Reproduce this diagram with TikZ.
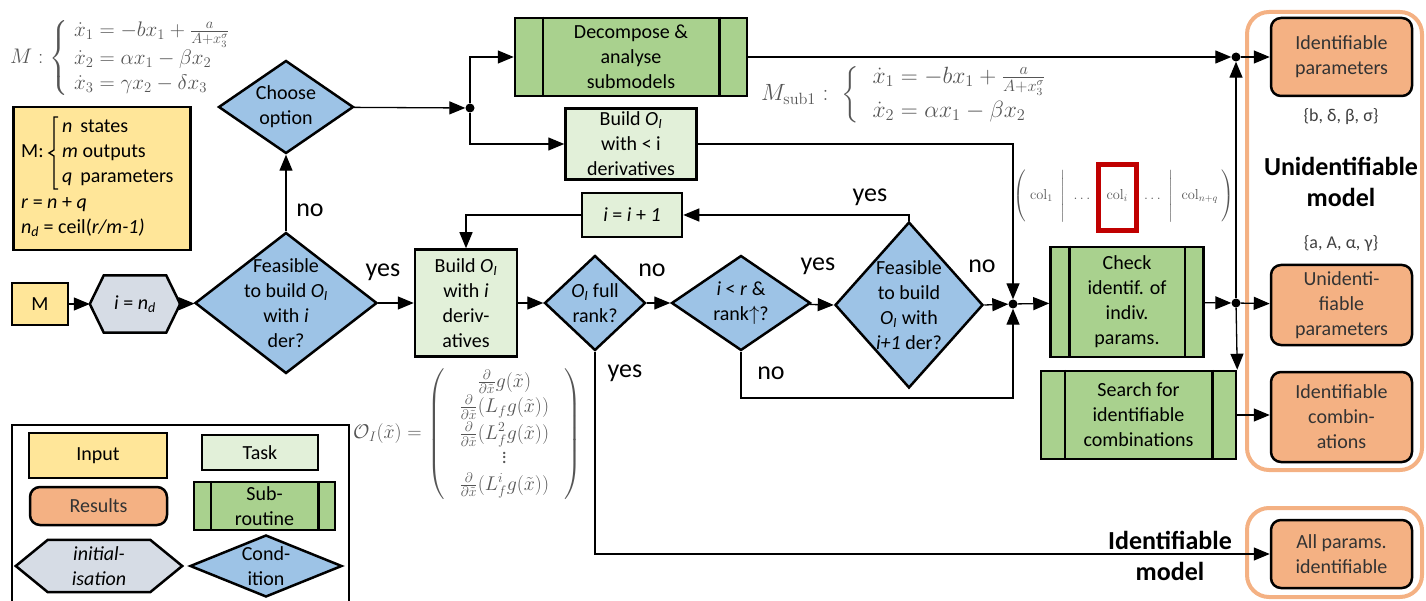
\documentclass[tikz,border=0pt]{standalone}
\usepackage{amsmath}
\usepackage{graphicx}
\usepackage[no-math]{fontspec}
\setmainfont{Carlito}
\usetikzlibrary{shapes.geometric,arrows.meta,backgrounds,calc}
\definecolor{inputY}{HTML}{FFE699}
\definecolor{taskG}{HTML}{E2F0D9}
\definecolor{subG}{HTML}{A9D18E}
\definecolor{resO}{HTML}{F4B183}
\definecolor{frameO}{HTML}{F4B183}
\definecolor{initC}{HTML}{D6DCE5}
\definecolor{condB}{HTML}{9DC3E6}
\definecolor{eqgray}{HTML}{555555}
\definecolor{redC}{HTML}{C00000}
\tikzset{
 box/.style={draw, line width=2.5pt, inner sep=0pt, align=center},
 inputbox/.style={box, fill=inputY},
 taskbox/.style={box, fill=taskG},
 subbox/.style={box, fill=subG},
 resbox/.style={box, fill=resO, rounded corners=10pt, text=black!80},
 condshape/.style={diamond, draw, line width=2.5pt, fill=condB, inner sep=0pt},
 initstyle/.style={draw, line width=2.5pt, fill=initC, line join=miter},
 lbl/.style={inner sep=0pt, align=center},
 sl/.style={inner sep=0pt, text height=13pt, text depth=4pt},
 conn/.style={line width=1.3pt, -{Triangle[length=16pt,width=13pt]}},
 jdot/.style={circle, fill=black, inner sep=0pt, minimum size=9pt},
 yn/.style={font=\fontsize{26}{30}\selectfont, inner sep=0pt},
 eq/.style={inner sep=0pt, text=eqgray, font=\fontsize{17}{20}\selectfont},
 bigbold/.style={font=\fontsize{26}{31}\selectfont\bfseries, align=center, inner sep=0pt},
 setlbl/.style={font=\fontsize{18}{22}\selectfont, text=black!75, inner sep=0pt},
 frame/.style={draw=frameO, line width=4pt, rounded corners=22pt},
}
\newcommand{\hexnode}[6]{%
 \node[minimum width=#3, minimum height=#4, inner sep=0pt] (#1) at (#2) {};
 \draw[initstyle] (#1.west) -- ([xshift=#5]#1.north west) -- ([xshift=-#5]#1.north east) -- (#1.east) -- ([xshift=-#5]#1.south east) -- ([xshift=#5]#1.south west) -- cycle;
 \node[lbl] (#1-t) at (#1) {#6};
}
\newcommand{\subnode}[6]{%
 \node[subbox, minimum width=#3, minimum height=#4] (#1) at (#2) {#6};
 \draw[line width=2.5pt] ([xshift=#5]#1.north west) -- ([xshift=#5]#1.south west)
   ([xshift=-#5]#1.north east) -- ([xshift=-#5]#1.south east);
}
\newcommand{\condnode}[5]{%
 \node[condshape, minimum width=#3, minimum height=#4] (#1) at (#2) {};
 \node[lbl] (#1-t) at (#1) {#5};
}
\newcommand{\OI}{\textit{O}\textsubscript{\textit{I}}}
\begin{document}
\begin{tikzpicture}[x=1pt,y=-1pt,font=\fontsize{20}{25}\selectfont]
\useasboundingbox (0,0) rectangle (1426,601);

% model equations
\node[eq, anchor=west] (eqM) at (10,58) {\scalebox{1.22}{$M:\left\{\begin{array}{l}\dot x_1=-bx_1+\frac{a}{A+x_3^\sigma}\\ \dot x_2=\alpha x_1-\beta x_2\\ \dot x_3=\gamma x_2-\delta x_3\end{array}\right.$}};

% info box
\node[inputbox, minimum width=177, minimum height=143, anchor=north west] (info) at (12,106) {};
\node[sl, anchor=west] (infoM) at (21,153) {M:};
\draw[line width=1.3pt] (58,117) -- (54,117) -- (54,150) -- (49,153) -- (54,156) -- (54,189) -- (58,189);
\node[sl, anchor=west] (inN) at (62,128) {\textit{n}\hspace{8pt}states};
\node[sl, anchor=west] (inM) at (62,153) {\textit{m} outputs};
\node[sl, anchor=west] (inQ) at (62,178) {\textit{q}\hspace{8pt}parameters};
\node[sl, anchor=west] (inR) at (21,204) {\textit{r} = \textit{n} + \textit{q}};
\node[sl, anchor=west] (inD) at (21,229) {\textit{n}\textsubscript{\textit{d}} = ceil(\textit{r/m-1)}};

% main flow
\node[inputbox, minimum width=56, minimum height=42] (M) at (40,304) {M};
\hexnode{init}{135,304}{90}{57}{14pt}{\textit{i} = \textit{n}\textsubscript{\textit{d}}}
\condnode{feas}{286,303}{182}{141}{Feasible\\to build \OI\\with \textit{i}\\der?}
\condnode{choose}{286,107}{135}{93}{Choose\\option}
\node[jdot] (d1) at (470,108) {};
\subnode{dec}{631,57}{232}{78}{29pt}{Decompose \&\\analyse\\submodels}
\node[taskbox, minimum width=131, minimum height=71] (bless) at (631,144) {Build \OI\\with < i\\derivatives};
\node[eq, anchor=west] (eqS) at (761,95) {\scalebox{1.36}{$M_{\mathrm{sub1}}:\;\left\{\;\begin{array}{l}\dot x_1=-bx_1+\frac{a}{A+x_3^\sigma}\\[5pt] \dot x_2=\alpha x_1-\beta x_2\end{array}\right.$}};
\node[taskbox, minimum width=100, minimum height=44] (inc) at (632,215) {\textit{i} = \textit{i} + \textit{1}};
\node[taskbox, minimum width=102, minimum height=107] (build) at (466,303) {Build \OI\\with \textit{i}\\deriv-\\atives};
\condnode{rank}{595,303}{101}{95}{\OI{} full\\rank?}
\condnode{ir}{741,303}{139}{95}{\textit{i} < \textit{r} \&\\rank$\uparrow$?}
\condnode{feasb}{909,305}{148}{166}{Feasible\\to build\\\OI{} with\\\textit{i+1} der?}
\node[jdot] (d2) at (1013,304) {};
\coordinate (c1) at (1013,398);
\subnode{chk}{1127,302}{153}{110}{20pt}{Check\\identif. of\\indiv.\\params.}
\node[jdot] (d3) at (1236,303) {};
\subnode{srch}{1138.5,415}{195}{88}{25pt}{Search for\\identifiable\\combinations}
\node[jdot] (d4) at (1236,57) {};

% O_I matrix
\node[eq, anchor=west] (eqO) at (353,434) {\scalebox{1.15}{$\mathcal{O}_I(\tilde x)=\begin{pmatrix}\frac{\partial}{\partial\tilde x}g(\tilde x)\\[1pt] \frac{\partial}{\partial\tilde x}(L_fg(\tilde x))\\[2pt] \frac{\partial}{\partial\tilde x}(L_f^2g(\tilde x))\\[-2pt] \makebox[104pt]{$\vdots$}\\[2pt] \frac{\partial}{\partial\tilde x}(L_f^ig(\tilde x))\end{pmatrix}$}};

% column vector
\node[eq, font=\fontsize{14}{17}\selectfont, text=eqgray] (cols) at (1124,197) {$\left(\rule[-24pt]{0pt}{50pt}\;\mathrm{col}_1\;\;\middle|\;\;\dots\quad\mathrm{col}_i\quad\dots\;\;\middle|\;\;\mathrm{col}_{n+q}\;\right)$};
\draw[redC, line width=5pt] (1098,165) rectangle (1136,231);

% results
\draw[frame] (1247,12) rectangle (1422,470);
\draw[frame] (1247,508) rectangle (1422,597);
\node[resbox, minimum width=141, minimum height=78] (idp) at (1341.5,57) {Identifiable\\parameters};
\node[setlbl] (setA) at (1341,117) {\{b, δ, β, σ\}};
\node[bigbold] (unidm) at (1341,182) {Unidentifiable\\model};
\node[setlbl] (setB) at (1341,243) {\{a, A, α, γ\}};
\node[resbox, minimum width=141, minimum height=80] (unid) at (1341.5,305) {Unidenti-\\fiable\\parameters};
\node[resbox, minimum width=141, minimum height=90] (comb) at (1341.5,417) {Identifiable\\combin-\\ations};
\node[resbox, minimum width=141, minimum height=68] (allp) at (1341.5,554) {All params.\\identifiable};
\node[bigbold] (idm) at (1170,556) {Identifiable\\model};

% connectors
\draw[conn] (M) -- (init);
\draw[conn] (init) -- (feas);
\draw[conn] (feas) -- (choose);
\node[yn] (lno1) at (310,210) {no};
\draw[conn] (choose) -- (d1);
\draw[conn] (d1) |- (dec.west);
\draw[conn] (d1) |- (bless.west);
\draw[conn] (feas) -- (build);
\node[yn] (lyes1) at (383,272) {yes};
\draw[conn] (build) -- (rank);
\draw[conn] (rank) -- (ir);
\node[yn] (lno2) at (652,270) {no};
\draw[conn] (ir) -- (feasb.west);
\node[yn] (lyes2) at (818,266) {yes};
\draw[conn] (feasb.east) -- (d2);
\node[yn] (lno3) at (982,266) {no};
\draw[conn] (feasb.north) |- (inc.east);
\node[yn] (lyes3) at (870,197) {yes};
\draw[conn] (inc.west) -| (build.north);
\draw[conn] (bless.east) -| (d2);
\draw[conn] (ir.south) |- (c1) -- (d2);
\node[yn] (lno4) at (771,373) {no};
\draw[conn] (d2) -- (chk);
\draw[conn] (chk) -- (d3);
\draw[conn] (d3) -- (unid);
\draw[conn] (d3) -- (srch.north east);
\draw[conn] (d3) -- (d4);
\draw[conn] (dec) -- (d4);
\draw[conn] (d4) -- (idp);
\draw[conn] (srch.east) -- (srch.east -| comb.west);
\draw[conn] (rank.south) |- (allp.west);
\node[yn] (lyes4) at (625,373) {yes};

% legend
\draw[line width=1.5pt] (12,610) -- (12,425) -- (349,425) -- (349,610);
\node[inputbox, minimum width=138, minimum height=45] (lgIn) at (98,455.5) {Input};
\node[taskbox, minimum width=116, minimum height=35] (lgTask) at (260,452.5) {Task};
\node[resbox, minimum width=137, minimum height=38] (lgRes) at (98.5,506) {Results};
\subnode{lgSub}{264.5,506}{141}{48}{18pt}{Sub-\\routine}
\hexnode{lgInit}{99,566}{166}{52}{32pt}{\textit{initial-}\\\textit{isation}}
\condnode{lgCond}{266,566}{152}{62}{Cond-\\ition}
\end{tikzpicture}
\end{document}
